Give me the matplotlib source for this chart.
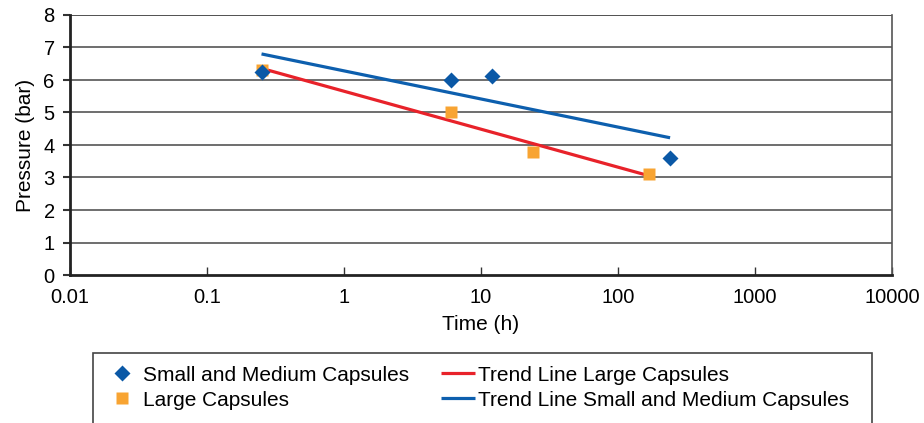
import numpy as np
import matplotlib
matplotlib.use("Agg")
from matplotlib import pyplot as plt
from matplotlib.patches import Rectangle
from matplotlib.ticker import FixedLocator, FixedFormatter

plt.rcParams['font.family'] = ['Liberation Sans', 'DejaVu Sans']

# small and medium capsules (diamonds)
small_time = [0.25, 6, 12, 240]
small_pressure = [6.25, 6.0, 6.13, 3.6]
# large capsules (squares)
large_time = [0.25, 6, 24, 168]
large_pressure = [6.3, 5.0, 3.8, 3.1]

x_ticks = [0.01, 0.1, 1, 10, 100, 1000, 10000]
x_tick_labels = ['0.01', '0.1', '1', '10', '100', '1000', '10000']
y_ticks = [0, 1, 2, 3, 4, 5, 6, 7, 8]

blue = '#0a58a6'
orange = '#f8a432'
red = '#e8222a'
grid_col = '#555555'


def log_trend(t, p):
    # excel style logarithmic trend line, drawn from first to last point
    k, b = np.polyfit(np.log10(t), p, 1)
    tt = np.array([min(t), max(t)])
    return tt, k * np.log10(tt) + b


fig = plt.figure(figsize=(9.24, 4.23), dpi=100)
ax = fig.add_axes([70/924, 1 - 275/423, 822/924, 260/423])

ax.set_xscale('log')
ax.set_xlim(0.01, 10000)
ax.set_ylim(0, 8)

for y in y_ticks[1:]:
    ax.axhline(y, color=grid_col if y < 8 else '#333333', lw=1.2, zorder=1)

tx, ty = log_trend(large_time, large_pressure)
red_line, = ax.plot(tx, ty, color=red, lw=2.3, zorder=3, solid_capstyle='butt')
tx, ty = log_trend(small_time, small_pressure)
blue_line, = ax.plot(tx, ty, color='#0d5fae', lw=2.3, zorder=3, solid_capstyle='butt')

sq, = ax.plot(large_time, large_pressure, 's', color=orange, ms=8.6, mec='none', zorder=4, ls='none')
dm, = ax.plot(small_time, small_pressure, 'D', color=blue, ms=7.8, mec='none', zorder=5, ls='none')

ax.xaxis.set_major_locator(FixedLocator(x_ticks))
ax.xaxis.set_major_formatter(FixedFormatter(x_tick_labels))
ax.xaxis.set_minor_locator(FixedLocator([]))
ax.set_yticks(y_ticks)
ax.tick_params(axis='x', direction='in', length=6, width=1, color='#333333', pad=9, labelsize=14.5)
ax.tick_params(axis='y', direction='out', length=5, width=1.5, color='#333333', pad=6, labelsize=14.5)

ax.spines['top'].set_visible(False)
ax.spines['left'].set_linewidth(2)
ax.spines['left'].set_color('#222222')
ax.spines['bottom'].set_linewidth(2)
ax.spines['bottom'].set_color('#222222')
ax.spines['right'].set_linewidth(1.2)
ax.spines['right'].set_color(grid_col)

ax.set_xlabel('Time (h)', fontsize=15, labelpad=6)
ax.set_ylabel('Pressure (bar)', fontsize=15, labelpad=6)

fig.legend([dm, sq, red_line, blue_line],
           ['Small and Medium Capsules', 'Large Capsules',
            'Trend Line Large Capsules', 'Trend Line Small and Medium Capsules'],
           ncol=2, loc='upper left', bbox_to_anchor=(93/924, 1 - 353/423),
           frameon=False, fontsize=15, handlelength=1.63, handletextpad=0.15,
           columnspacing=1.55, borderpad=0.1, labelspacing=0.3)

fig.patches.append(Rectangle((93/924, -0.1), (872 - 93)/924, 0.1 + 1 - 353/423,
                             transform=fig.transFigure, fill=False,
                             edgecolor='#444444', lw=1.2))

fig.savefig('out.png', dpi=100)
